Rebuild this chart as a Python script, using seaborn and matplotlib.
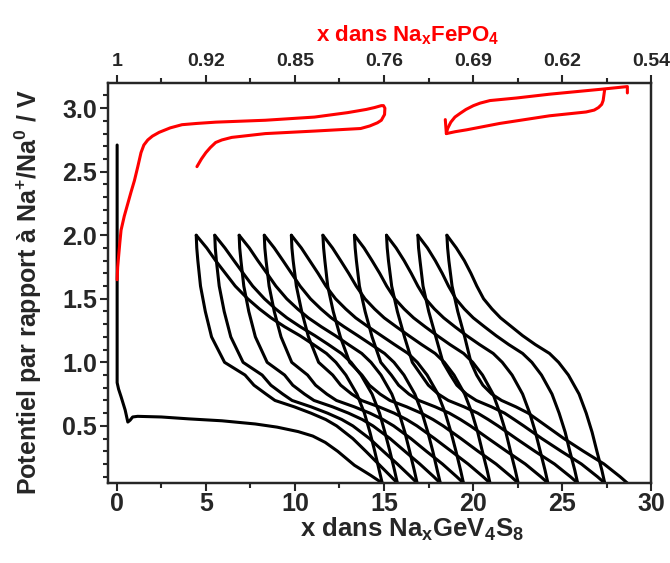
import numpy as np
import pandas as pd
import matplotlib.pyplot as plt
import seaborn as sns

sns.set_theme(style="ticks")
plt.rcParams['font.family'] = ['Liberation Sans', 'DejaVu Sans']
plt.rcParams['font.weight'] = 'bold'
plt.rcParams['mathtext.fontset'] = 'custom'
plt.rcParams['mathtext.rm'] = 'Liberation Sans:bold'
plt.rcParams['mathtext.it'] = 'Liberation Sans:bold'
plt.rcParams['mathtext.bf'] = 'Liberation Sans:bold'

# --- GeV4S8 : first discharge (x, V) ---
first_x = [0.02, 0.02, 0.02, 0.1, 0.24, 0.47, 0.62, 0.75, 0.89, 1.17, 2.5, 4.05, 5.9,
           7.77, 9.0, 10.18, 11.0, 11.7, 12.4, 13.34, 14.26, 14.9]
first_v = [2.71, 1.2, 0.84, 0.79, 0.73, 0.625, 0.53, 0.545, 0.57, 0.575, 0.57, 0.555, 0.54,
           0.515, 0.49, 0.455, 0.42, 0.37, 0.3, 0.19, 0.11, 0.05]

# --- charges : x read at fixed potential levels ---
charge_v = [0.05, 0.15, 0.3, 0.45, 0.6, 0.75, 0.9, 1.0, 1.07, 1.14, 1.21, 1.28, 1.35,
            1.42, 1.5, 1.6, 1.7, 1.8, 1.9, 2.0]
charge_x = [
    [14.90, 14.73, 14.48, 14.21, 13.90, 13.48, 12.86, 12.30, 11.77, 11.04, 10.28, 9.42, 8.66, 8.01, 7.35, 6.65, 6.10, 5.55, 5.05, 4.46],
    [15.75, 15.59, 15.33, 15.05, 14.75, 14.33, 13.71, 13.15, 12.61, 11.88, 11.12, 10.30, 9.55, 8.92, 8.29, 7.63, 7.10, 6.58, 6.07, 5.50],
    [16.86, 16.70, 16.44, 16.17, 15.85, 15.44, 14.83, 14.27, 13.75, 13.00, 12.27, 11.48, 10.75, 10.15, 9.54, 8.93, 8.43, 7.92, 7.44, 6.87],
    [18.16, 17.99, 17.74, 17.46, 17.14, 16.73, 16.12, 15.56, 15.03, 14.28, 13.53, 12.76, 12.04, 11.46, 10.87, 10.29, 9.81, 9.33, 8.84, 8.28],
    [19.46, 19.30, 19.04, 18.76, 18.44, 18.03, 17.42, 16.87, 16.35, 15.59, 14.85, 14.11, 13.41, 12.85, 12.28, 11.74, 11.30, 10.83, 10.36, 9.80],
    [20.95, 20.79, 20.52, 20.26, 19.94, 19.53, 18.93, 18.39, 17.87, 17.11, 16.39, 15.69, 15.01, 14.47, 13.93, 13.44, 13.02, 12.57, 12.11, 11.57],
    [22.53, 22.37, 22.10, 21.84, 21.51, 21.12, 20.53, 19.98, 19.47, 18.70, 17.99, 17.31, 16.66, 16.13, 15.61, 15.15, 14.76, 14.33, 13.88, 13.34],
    [24.20, 24.04, 23.77, 23.50, 23.18, 22.78, 22.19, 21.64, 21.13, 20.36, 19.64, 18.98, 18.35, 17.83, 17.33, 16.90, 16.53, 16.13, 15.68, 15.14],
    [25.87, 25.71, 25.43, 25.17, 24.83, 24.43, 23.84, 23.30, 22.78, 22.00, 21.29, 20.64, 20.01, 19.51, 19.03, 18.62, 18.27, 17.88, 17.44, 16.90],
    [27.39, 27.23, 26.95, 26.68, 26.35, 25.95, 25.35, 24.80, 24.29, 23.49, 22.78, 22.16, 21.54, 21.06, 20.59, 20.21, 19.88, 19.51, 19.06, 18.53],
]

# --- discharges ---
discharge_v = [2.0, 1.9, 1.8, 1.6, 1.4, 1.2, 1.0, 0.9, 0.82, 0.75, 0.7, 0.65, 0.6, 0.55,
               0.5, 0.4, 0.3, 0.2, 0.1, 0.05]
discharge_x = [
    [4.46, 4.49, 4.55, 4.70, 4.97, 5.32, 6.05, 7.20, 7.70, 8.38, 8.88, 9.96, 10.90, 11.73, 12.34, 13.25, 13.98, 14.69, 15.40, 15.75],
    [5.50, 5.53, 5.59, 5.75, 6.03, 6.40, 7.09, 8.16, 8.65, 9.32, 9.84, 10.90, 11.83, 12.63, 13.25, 14.19, 14.96, 15.75, 16.50, 16.86],
    [6.87, 6.90, 6.97, 7.13, 7.41, 7.78, 8.44, 9.42, 9.88, 10.54, 11.07, 12.11, 13.01, 13.78, 14.38, 15.34, 16.17, 17.01, 17.79, 18.16],
    [8.28, 8.31, 8.38, 8.55, 8.84, 9.22, 9.82, 10.71, 11.16, 11.79, 12.33, 13.33, 14.21, 14.94, 15.54, 16.51, 17.38, 18.28, 19.08, 19.46],
    [9.80, 9.83, 9.90, 10.08, 10.38, 10.76, 11.33, 12.12, 12.57, 13.19, 13.74, 14.71, 15.57, 16.27, 16.85, 17.84, 18.78, 19.72, 20.56, 20.95],
    [11.57, 11.61, 11.68, 11.84, 12.15, 12.55, 13.07, 13.76, 14.18, 14.78, 15.33, 16.27, 17.09, 17.75, 18.32, 19.32, 20.28, 21.29, 22.14, 22.53],
    [13.34, 13.38, 13.45, 13.62, 13.94, 14.33, 14.82, 15.41, 15.82, 16.40, 16.96, 17.87, 18.67, 19.29, 19.85, 20.86, 21.88, 22.93, 23.80, 24.20],
    [15.14, 15.18, 15.25, 15.43, 15.75, 16.15, 16.59, 17.09, 17.49, 18.05, 18.61, 19.49, 20.26, 20.85, 21.40, 22.42, 23.47, 24.57, 25.46, 25.87],
    [16.90, 16.94, 17.02, 17.19, 17.51, 17.91, 18.31, 18.73, 19.09, 19.63, 20.18, 21.03, 21.77, 22.31, 22.84, 23.86, 24.95, 26.08, 26.98, 27.39],
    [18.53, 18.57, 18.64, 18.82, 19.14, 19.53, 19.88, 20.20, 20.55, 21.05, 21.60, 22.40, 23.10, 23.60, 24.10, 25.10, 26.20, 27.35, 28.25, 28.66],
]

# --- NaFePO4 cycles (red), in bottom-axis units ---
red1_x = [0.02, 0.05, 0.1, 0.17, 0.24, 0.42, 0.62, 0.8, 0.99, 1.18, 1.36, 1.52, 1.74, 2.0,
          2.38, 3.0, 3.66, 4.5, 5.55, 8.34, 11.1, 12.96, 14.0, 14.47, 14.85, 14.97, 15.05,
          15.03, 14.85, 14.63, 14.2, 13.69, 11.12, 8.34, 6.45, 5.9, 5.55, 5.25, 5.0, 4.75, 4.5]
red1_v = [1.65, 1.75, 1.83, 1.94, 2.04, 2.15, 2.25, 2.34, 2.43, 2.54, 2.65, 2.71, 2.75, 2.78,
          2.81, 2.845, 2.87, 2.88, 2.89, 2.905, 2.93, 2.965, 2.99, 3.005, 3.02, 3.02, 3.0,
          2.95, 2.905, 2.885, 2.86, 2.84, 2.82, 2.80, 2.77, 2.75, 2.73, 2.69, 2.65, 2.60, 2.54]
red2_top_x = [28.66, 28.66, 27.26, 24.29, 22.43, 20.95, 20.4, 20.02, 19.6, 19.28, 18.98,
              18.75, 18.57, 18.5]
red2_top_v = [3.12, 3.17, 3.15, 3.11, 3.08, 3.06, 3.04, 3.02, 2.99, 2.96, 2.93, 2.89, 2.84, 2.80]
red2_bot_x = [18.44, 18.5, 19.0, 19.65, 21.5, 24.29, 26.34, 26.8, 27.04, 27.22, 27.3, 27.38]
red2_bot_v = [2.91, 2.80, 2.815, 2.83, 2.88, 2.94, 2.97, 2.985, 3.005, 3.03, 3.06, 3.14]

top_labels = ['1', '0.92', '0.85', '0.76', '0.69', '0.62', '0.54']

# long tables for seaborn
rows = [pd.DataFrame({'x': first_x, 'V': first_v, 'curve': 'd0'})]
for i, xs in enumerate(charge_x):
    rows.append(pd.DataFrame({'x': xs, 'V': charge_v, 'curve': f'c{i+1}'}))
for i, xs in enumerate(discharge_x):
    rows.append(pd.DataFrame({'x': xs, 'V': discharge_v, 'curve': f'd{i+1}'}))
black = pd.concat(rows, ignore_index=True)

red = pd.concat([
    pd.DataFrame({'x': red1_x, 'V': red1_v, 'curve': 'r1'}),
    pd.DataFrame({'x': red2_top_x, 'V': red2_top_v, 'curve': 'r2a'}),
    pd.DataFrame({'x': red2_bot_x, 'V': red2_bot_v, 'curve': 'r2b'}),
], ignore_index=True)

fig = plt.figure(figsize=(6.7, 5.63), dpi=100)
ax = fig.add_axes([0.161, 0.142, 0.811, 0.711])

sns.lineplot(data=black, x='x', y='V', units='curve', estimator=None, sort=False,
             color='black', lw=2.2, ax=ax, zorder=2)
sns.lineplot(data=red, x='x', y='V', units='curve', estimator=None, sort=False,
             color='#ff0000', lw=2.2, ax=ax, zorder=3)

ax.set_xlim(-0.5, 30)
ax.set_ylim(0.05, 3.2)
ax.set_xticks(np.arange(0, 31, 5))
ax.set_xticks(np.arange(2.5, 30, 5), minor=True)
yt = np.arange(0.5, 3.01, 0.5)
ax.set_yticks(yt)
ax.set_yticklabels([f'{v:.1f}' for v in yt])
ax.set_yticks(np.arange(0.1, 3.2, 0.1), minor=True)
ax.tick_params(which='both', direction='out', width=1.5, labelsize=18)
ax.tick_params(which='major', length=6)
ax.tick_params(which='minor', length=3.5)
ax.tick_params(axis='x', which='major', pad=0.3)
ax.tick_params(axis='y', which='major', pad=2)
for s in ax.spines.values():
    s.set_linewidth(1.6)
    s.set_color('black')

ax.set_xlabel(r'x dans Na$_\mathrm{x}$GeV$_\mathrm{4}$S$_\mathrm{8}$', fontsize=18.5,
              fontweight='bold')
ax.set_ylabel(r'Potentiel par rapport à Na$^\mathrm{+}$/Na$^\mathrm{0}$ / V', fontsize=18,
              fontweight='bold')
ax.xaxis.set_label_coords(0.56, -0.083)
ax.yaxis.set_label_coords(-0.118, 0.476)

ax2 = ax.twiny()
ax2.set_xlim(ax.get_xlim())
ax2.set_xticks(np.arange(0, 31, 5))
ax2.set_xticklabels(top_labels)
ax2.set_xticks(np.arange(2.5, 30, 5), minor=True)
ax2.tick_params(which='both', direction='out', width=1.5, labelsize=14)
ax2.tick_params(which='major', length=6)
ax2.tick_params(which='minor', length=3.5)
ax2.set_xlabel(r'x dans Na$_\mathrm{x}$FePO$_\mathrm{4}$', fontsize=16, fontweight='bold',
               color='#ff0000')
ax2.xaxis.set_label_coords(0.552, 1.103)
for s in ax2.spines.values():
    s.set_linewidth(1.6)

plt.savefig('out.png', dpi=100)
